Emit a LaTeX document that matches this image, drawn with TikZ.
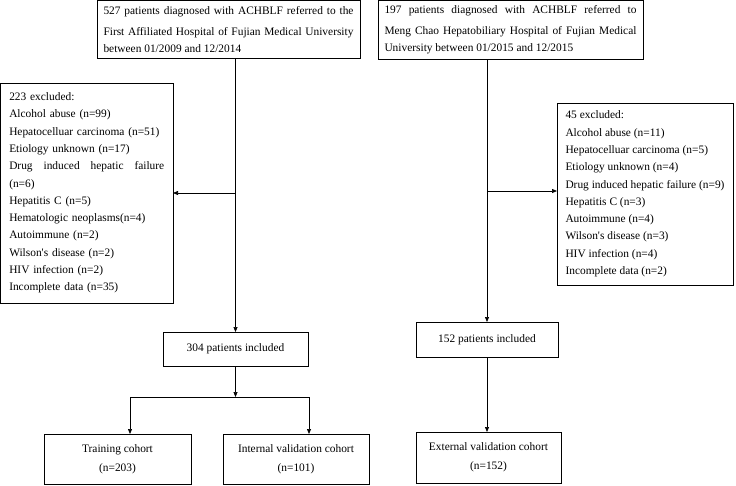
\documentclass[tikz,border=0pt]{standalone}
\usepackage{fontspec}
\setmainfont{Liberation Serif}
\usetikzlibrary{arrows.meta}
\usetikzlibrary{calc}
\usetikzlibrary{positioning}

\begin{document}
\begin{tikzpicture}[x=1pt, y=-1pt,
  font = \fontsize{11.4}{17.3}\selectfont,
     box/.style = {draw, line width=0.8pt, inner sep=0pt, outer sep=0pt},
    head/.style = {box, minimum width=#1, minimum height=58.5pt,
                   text width=#1-13pt, align=justify,
                   font=\fontsize{11.4}{17.3}\selectfont},
    cohort/.style = {box, minimum width=146pt, minimum height=50pt, align=center},
     arr/.style = {line width=0.7pt, -{Triangle[length=5pt,width=4pt]}}
                   ]
\useasboundingbox (0,0) rectangle (736,485);

\node[head=263pt] (srcA) at (228.5,29.5)
  {\vspace*{4pt}527 patients diagnosed with ACHBLF referred to the\linebreak
   First Affiliated Hospital of Fujian Medical University\linebreak
   between 01/2009 and 12/2014};
\node[head=265pt] (srcB) at (510.5,29.75)
  {\vspace*{4pt}197 patients diagnosed with ACHBLF referred to\linebreak
   Meng Chao Hepatobiliary Hospital of Fujian Medical\linebreak
   University between 01/2015 and 12/2015};

\node[box, minimum width=172.5pt, minimum height=220pt, text width=155pt,
      align=left] (excA) at (86.75,193)
  {223 excluded:\\ Alcohol abuse (n=99)\\ Hepatocelluar carcinoma (n=51)\\
   Etiology unknown (n=17)\\ Drug\hfill induced\hfill hepatic\hfill failure\\
   (n=6)\\ Hepatitis C (n=5)\\ Hematologic neoplasms(n=4)\\ Autoimmune (n=2)\\
   Wilson\textquotesingle s disease (n=2)\\ HIV infection (n=2)\\ Incomplete data (n=35)};
\node[box, minimum width=176pt, minimum height=182pt, align=left] (excB) at (645,194)
  {45 excluded:\\ Alcohol abuse (n=11)\\ Hepatocelluar carcinoma (n=5)\\
   Etiology unknown (n=4)\\ Drug induced hepatic failure (n=9)\\
   Hepatitis C (n=3)\\ Autoimmune (n=4)\\ Wilson\textquotesingle s disease (n=3)\\
   HIV infection (n=4)\\ Incomplete data (n=2)};

\node[box, minimum width=145pt, minimum height=34pt] (inc304) at (235.5,349)
  {304 patients included};
\node[box, minimum width=142pt, minimum height=35pt] (inc152) at (487,339.5)
  {152 patients included};

\node[cohort, minimum width=147pt] (train) at (117.5,459)
  {Training cohort\\[1.5pt](n=203)};
\node[cohort, right=32pt of train] (intval)
  {Internal validation cohort\\[1.5pt](n=101)};
\node[cohort, minimum width=145pt, minimum height=51pt] (extval) at (488.5,457.5)
  {External validation cohort\\[1.5pt](n=152)};

\coordinate (exclB) at (487,191);
\coordinate (splitL) at (130,397);
\coordinate (splitR) at (309,397);

\draw[arr] (srcA.south -| inc304.north) -- (inc304.north);
\draw[arr] (inc304.north |- excA.east) -- (excA.east);
\draw[arr] (srcB.south -| inc152.north) -- (inc152.north);
\draw[arr] (exclB) -- (exclB -| excB.west);
\draw[arr] (inc152.south) -- (inc152.south |- extval.north);
\draw[arr] (inc304.south) -- (inc304.south |- splitL);
\draw[line width=0.7pt] (splitL) -- (splitR);
\draw[arr] (splitL) -- (splitL |- train.north);
\draw[arr] (splitR) -- (splitR |- intval.north);
\end{tikzpicture}
\end{document}
